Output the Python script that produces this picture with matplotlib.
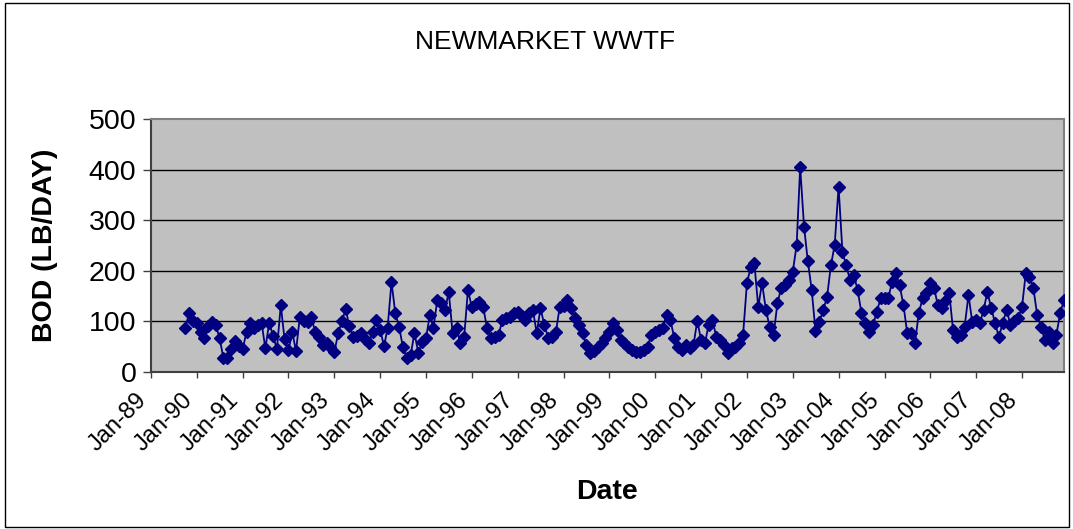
import numpy as np
import pandas as pd
import matplotlib
matplotlib.use("Agg")
import matplotlib.pyplot as plt
import matplotlib.dates as mdates
from matplotlib.patches import Rectangle

plt.rcParams['font.family'] = ['Liberation Sans', 'DejaVu Sans']

# monthly BOD loads, Oct-89 .. Dec-08
bod_1989 = [87, 117, 100]
bod_1990 = [97, 80, 67, 90, 99, 93, 67, 28, 28, 45, 61, 52]
bod_1991 = [45, 79, 97, 87, 92, 97, 47, 97, 71, 45, 132, 65]
bod_1992 = [43, 79, 41, 109, 100, 99, 109, 79, 69, 53, 57, 49]
bod_1993 = [40, 77, 100, 124, 90, 69, 72, 77, 65, 57, 80, 103]
bod_1994 = [83, 51, 87, 178, 117, 89, 49, 28, 34, 77, 38, 59]
bod_1995 = [67, 113, 87, 142, 136, 122, 158, 77, 87, 57, 69, 162]
bod_1996 = [128, 135, 138, 128, 87, 68, 70, 73, 103, 107, 109, 117]
bod_1997 = [119, 110, 103, 117, 123, 77, 126, 93, 67, 70, 79, 128]
bod_1998 = [130, 142, 126, 107, 93, 77, 53, 38, 42, 49, 57, 67]
bod_1999 = [79, 97, 83, 63, 57, 50, 43, 40, 40, 43, 50, 73]
bod_2000 = [80, 83, 87, 113, 103, 67, 50, 43, 53, 47, 53, 101]
bod_2001 = [63, 57, 93, 103, 70, 63, 53, 38, 47, 50, 57, 73]
bod_2002 = [176, 208, 215, 128, 176, 123, 89, 73, 136, 166, 172, 182]
bod_2003 = [198, 251, 405, 287, 219, 162, 81, 99, 123, 148, 211, 251]
bod_2004 = [366, 237, 211, 182, 192, 162, 117, 97, 79, 93, 119, 146]
bod_2005 = [146, 146, 178, 196, 172, 132, 77, 77, 57, 117, 146, 156]
bod_2006 = [176, 166, 132, 126, 140, 156, 83, 69, 73, 89, 152, 99]
bod_2007 = [103, 97, 123, 158, 126, 97, 69, 97, 123, 93, 100, 107]
bod_2008 = [128, 196, 188, 166, 113, 89, 63, 79, 57, 73, 117, 142]

bod = (bod_1989 + bod_1990 + bod_1991 + bod_1992 + bod_1993 + bod_1994 +
       bod_1995 + bod_1996 + bod_1997 + bod_1998 + bod_1999 + bod_2000 +
       bod_2001 + bod_2002 + bod_2003 + bod_2004 + bod_2005 + bod_2006 +
       bod_2007 + bod_2008)
dates = pd.date_range("1989-10-01", periods=len(bod), freq="MS")

fig = plt.figure(figsize=(10.73, 5.29), dpi=100)
ax = fig.add_axes([151/1073, 1 - 372/529, 913/1073, 253/529])
ax.set_facecolor("#C0C0C0")

ax.plot(dates, bod, color="#000080", lw=1.3, marker="D", ms=6.6,
        mec="#000080", mfc="#000080", zorder=3)

ax.set_ylim(0, 500)
ax.set_yticks(range(0, 501, 100))
ax.set_xlim(pd.Timestamp("1989-01-01"), pd.Timestamp("2008-12-01"))
ax.xaxis.set_major_locator(mdates.YearLocator(1, month=1, day=1))
ax.xaxis.set_major_formatter(mdates.DateFormatter("%b-%y"))

for y in range(100, 500, 100):
    ax.axhline(y, color="black", lw=1, zorder=1)

for s in ["top", "right"]:
    ax.spines[s].set_color("#808080")
    ax.spines[s].set_linewidth(1.5)
for s in ["left", "bottom"]:
    ax.spines[s].set_color("#404040")
    ax.spines[s].set_linewidth(1.5)

ax.tick_params(axis="y", direction="out", length=5.5, width=1, pad=5,
               labelsize=20.5, colors="#404040", labelcolor="black")
ax.tick_params(axis="x", direction="out", length=4, width=1, pad=8,
               labelsize=17, colors="#404040", labelcolor="black")
plt.setp(ax.get_xticklabels(), rotation=45, ha="right")

ax.set_ylabel("BOD (LB/DAY)", fontsize=20.5, fontweight="bold")
ax.yaxis.set_label_coords(-0.102, 0.5)
ax.set_xlabel("Date", fontsize=20.5, fontweight="bold")
ax.xaxis.set_label_coords(0.5, -0.422)

fig.text(545/1073, 1 - 42/529, "NEWMARKET WWTF", fontsize=19,
         ha="center", va="center")

fig.patches.append(Rectangle((5/1073, 2/529), 1064/1073, 524/529,
                             transform=fig.transFigure, fill=False,
                             edgecolor="black", lw=1))

fig.savefig("out.png", dpi=100)
